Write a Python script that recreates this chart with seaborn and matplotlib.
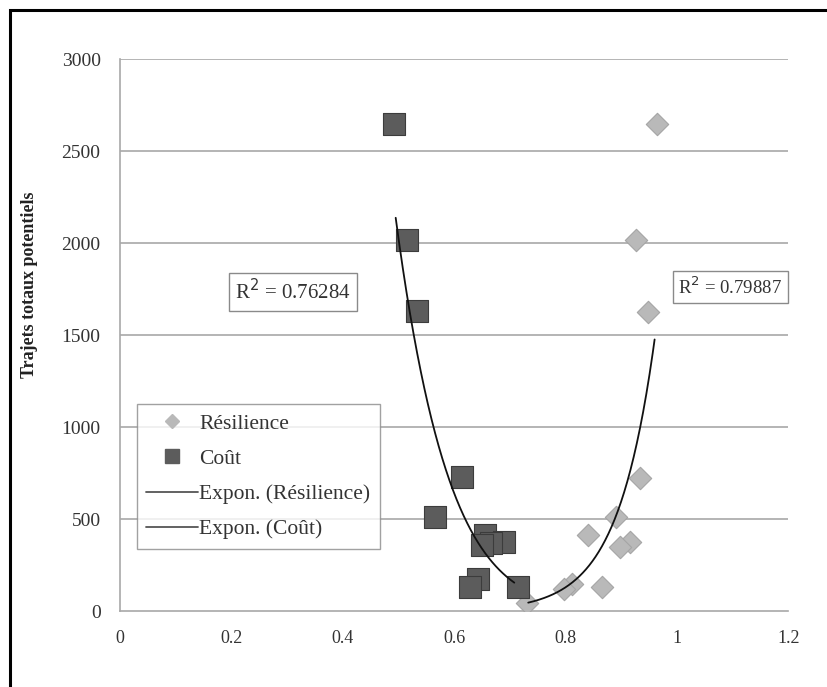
import matplotlib
matplotlib.use("Agg")
import matplotlib.pyplot as plt
import numpy as np
import pandas as pd
import seaborn as sns
from matplotlib.patches import Rectangle
from matplotlib.lines import Line2D

# Coût (squares)
cout_x = [0.492, 0.515, 0.533, 0.614, 0.566, 0.656, 0.690, 0.667, 0.650, 0.643, 0.629, 0.714]
cout_y = [2647, 2016, 1630, 728, 511, 413, 375, 370, 360, 174, 130, 130]

# Résilience (diamonds)
res_x = [0.964, 0.926, 0.948, 0.933, 0.890, 0.841, 0.915, 0.897, 0.811, 0.798, 0.865, 0.731]
res_y = [2647, 2016, 1625, 723, 511, 413, 375, 348, 147, 120, 130, 43]

# trend curves
cout_trend_x = [0.495, 0.553, 0.600, 0.649, 0.708]
cout_trend_y = [2196, 1038, 674, 348, 152]
res_trend_x = [0.733, 0.793, 0.859, 0.906, 0.937, 0.960]
res_trend_y = [43, 130, 315, 587, 1038, 1570]

r2_labels = ["R$^2$ = 0.76284", "R$^2$ = 0.79887"]
x_ticks = [0, 0.2, 0.4, 0.6, 0.8, 1, 1.2]
x_tick_labels = ["0", "0.2", "0.4", "0.6", "0.8", "1", "1.2"]
y_ticks = [0, 500, 1000, 1500, 2000, 2500, 3000]

sns.set_style("white")
plt.rcParams['font.family'] = ['Liberation Serif', 'DejaVu Serif']

df = pd.DataFrame({
    "x": cout_x + res_x,
    "y": cout_y + res_y,
    "serie": ["Coût"] * len(cout_x) + ["Résilience"] * len(res_x),
})

fig = plt.figure(figsize=(8.28, 6.87), dpi=100)
ax = fig.add_axes([0.145, 0.1106, 0.807, 0.8035])

# outer frame of the chart area
fig.patches.append(Rectangle((10 / 828, -0.05), 1.2, 1 - 10 / 687 + 0.05,
                             transform=fig.transFigure, fill=False,
                             edgecolor="black", linewidth=2.2))

for v in y_ticks[1:]:
    ax.axhline(v, color="#a8a8a8", linewidth=1.2, zorder=0)

sns.scatterplot(data=df[df.serie == "Résilience"], x="x", y="y", marker="D",
                s=130, color="#b9b9b9", edgecolor="#a5a5a5", linewidth=0.8,
                ax=ax, zorder=3, legend=False)
sns.scatterplot(data=df[df.serie == "Coût"], x="x", y="y", marker="s",
                s=260, color="#5c5c5c", edgecolor="#3c3c3c", linewidth=0.8,
                ax=ax, zorder=3, legend=False)

# smooth the read trend points (exponential of a quadratic)
for xs, ys in [(cout_trend_x, cout_trend_y), (res_trend_x, res_trend_y)]:
    xs = np.array(xs)
    ys = np.array(ys)
    coef = np.polyfit(xs, np.log(ys), 2)
    xx = np.linspace(xs.min(), xs.max(), 200)
    sns.lineplot(x=xx, y=np.exp(np.polyval(coef, xx)), color="#111111",
                 linewidth=1.3, ax=ax, zorder=4)

ax.set_xlim(0, 1.2)
ax.set_ylim(0, 3000)
ax.set_xticks(x_ticks)
ax.set_xticklabels(x_tick_labels)
ax.set_yticks(y_ticks)
ax.tick_params(axis="both", length=0, labelcolor="#333333")
ax.tick_params(axis="x", pad=14, labelsize=13)
ax.tick_params(axis="y", pad=14, labelsize=14)
for s in ["top", "right"]:
    ax.spines[s].set_visible(False)
for s in ["left", "bottom"]:
    ax.spines[s].set_color("#a8a8a8")
    ax.spines[s].set_linewidth(1.2)
ax.set_xlabel("")
ax.set_ylabel("")
fig.text(30 / 828, 1 - 285 / 687, "Trajets totaux potentiels", rotation=90,
         ha="center", va="center", fontsize=13, fontweight="bold", color="#222222")

box = dict(boxstyle="square,pad=0.3", facecolor="white", edgecolor="#8a8a8a", linewidth=1)
ax.text(0.31, 1734, r2_labels[0], ha="center", va="center", fontsize=15,
        color="#333333", bbox=box, zorder=6)
ax.text(1.096, 1761, r2_labels[1], ha="center", va="center", fontsize=13.5,
        color="#333333", bbox=box, zorder=6)

handles = [
    Line2D([], [], marker="D", linestyle="none", markersize=7, color="#b9b9b9"),
    Line2D([], [], marker="s", linestyle="none", markersize=10, color="#5c5c5c"),
    Line2D([], [], color="#555555", linewidth=1.3),
    Line2D([], [], color="#555555", linewidth=1.3),
]
labels = ["Résilience", "Coût", "Expon. (Résilience)", "Expon. (Coût)"]
leg = ax.legend(handles, labels, loc="upper left", bbox_to_anchor=(0.025, 0.375),
                fontsize=15.5, frameon=True, fancybox=False, borderpad=0.45,
                labelspacing=0.7, handlelength=2.4, handletextpad=0.05,
                borderaxespad=0)
leg.get_frame().set_edgecolor("#8a8a8a")
leg.get_frame().set_linewidth(1)
for t in leg.get_texts():
    t.set_color("#333333")
leg.set_zorder(7)

fig.savefig("out.png", dpi=100)
